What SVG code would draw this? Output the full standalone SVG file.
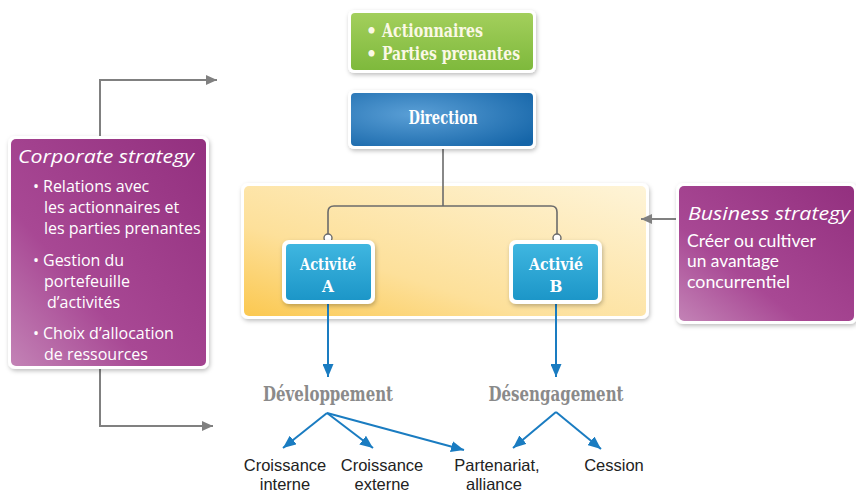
<svg xmlns="http://www.w3.org/2000/svg" width="856" height="495" viewBox="0 0 856 495">
<style>
.slab{font-family:"DejaVu Serif Condensed","DejaVu Serif",serif;font-stretch:condensed;font-weight:bold;}
.wt{fill:#ffffff;}
.body{font-family:"Open Sans","Noto Sans",sans-serif;font-size:16px;fill:#ffffff;}
.body2{font-family:Lato,"Open Sans",sans-serif;font-size:17px;fill:#ffffff;}
.ttl{font-family:"Open Sans","Noto Sans",sans-serif;font-style:italic;font-size:19px;fill:#ffffff;}
.leaf{font-family:"Liberation Sans",Arial,sans-serif;font-size:16.5px;fill:#222222;text-anchor:middle;}
.gray{fill:none;stroke:#808080;stroke-width:2;}
.blue{fill:none;stroke:#1a7cc1;stroke-width:2;}
.tree{fill:none;stroke:#6b6b6b;stroke-width:1.6;}
.frame{fill:#ffffff;}
</style>
<defs>
<filter id="sh" x="-10%" y="-10%" width="130%" height="130%">
<feDropShadow dx="1" dy="2" stdDeviation="2" flood-color="#000" flood-opacity="0.25"/>
</filter>
<linearGradient id="gGreen" x1="0" y1="0" x2="0" y2="1">
<stop offset="0" stop-color="#a3cf5c"/><stop offset="1" stop-color="#7eb93c"/>
</linearGradient>
<radialGradient id="gBlue" cx="0.35" cy="0.4" r="0.8">
<stop offset="0" stop-color="#5a9fd6"/><stop offset="1" stop-color="#1565a8"/>
</radialGradient>
<linearGradient id="gCyan" x1="0" y1="0" x2="0" y2="1">
<stop offset="0" stop-color="#3fb6e0"/><stop offset="1" stop-color="#1c96c8"/>
</linearGradient>
<linearGradient id="gYellow" x1="0" y1="1" x2="1" y2="0">
<stop offset="0" stop-color="#fbc850"/><stop offset="0.35" stop-color="#fde09a"/><stop offset="1" stop-color="#fef4d8"/>
</linearGradient>
<linearGradient id="gPurple" x1="0" y1="1" x2="1" y2="0">
<stop offset="0" stop-color="#c383b6"/><stop offset="0.35" stop-color="#a84894"/><stop offset="1" stop-color="#93307f"/>
</linearGradient>
<marker id="aGray" markerUnits="userSpaceOnUse" markerWidth="11" markerHeight="10" refX="11" refY="5" orient="auto">
<path d="M0,0 L11,5 L0,10 z" fill="#808080"/>
</marker>
<marker id="aBlue" markerUnits="userSpaceOnUse" markerWidth="13" markerHeight="11" refX="13" refY="5.5" orient="auto">
<path d="M0,0 L13,5.5 L0,11 z" fill="#1a7cc1"/>
</marker>
</defs>
<rect width="856" height="495" fill="#ffffff"/>

<g id="business-unit-panel">
<rect x="241" y="183" width="408" height="136" rx="7" class="frame" filter="url(#sh)"/>
<rect x="244" y="186" width="402" height="130" rx="5" fill="url(#gYellow)"/>
</g>

<g id="connectors">
<path class="gray" d="M100,138 V80 H217" marker-end="url(#aGray)"/>
<path class="gray" d="M100,367 V426 H213" marker-end="url(#aGray)"/>
<path class="gray" d="M678,219 H641" marker-end="url(#aGray)"/>
<path class="tree" d="M443,147 V206 M328,238 V212 Q328,206 334,206 H551 Q557,206 557,212 V238"/>
<circle cx="328" cy="238" r="4" fill="#ffffff" stroke="#6b6b6b" stroke-width="1.4"/>
<circle cx="557" cy="238" r="4" fill="#ffffff" stroke="#6b6b6b" stroke-width="1.4"/>
<path class="blue" d="M328,303 V377" marker-end="url(#aBlue)"/>
<path class="blue" d="M556,303 V377" marker-end="url(#aBlue)"/>
<path class="blue" d="M327,413 L283,448" marker-end="url(#aBlue)"/>
<path class="blue" d="M327,413 L373,448" marker-end="url(#aBlue)"/>
<path class="blue" d="M327,413 L464,450" marker-end="url(#aBlue)"/>
<path class="blue" d="M556,412 L513,448" marker-end="url(#aBlue)"/>
<path class="blue" d="M556,412 L601,449" marker-end="url(#aBlue)"/>
</g>

<g id="stakeholders">
<rect x="348" y="10" width="188" height="63" rx="6" class="frame" filter="url(#sh)"/>
<rect x="351" y="13" width="182" height="57" rx="4" fill="url(#gGreen)"/>
<text class="slab" font-size="19" fill="#fbf8e6"><tspan x="366" y="37">•</tspan><tspan x="382" y="37" textLength="101" lengthAdjust="spacingAndGlyphs">Actionnaires</tspan><tspan x="366" y="60">•</tspan><tspan x="382" y="60" textLength="138" lengthAdjust="spacingAndGlyphs">Parties prenantes</tspan></text>
</g>

<g id="direction">
<rect x="348" y="90" width="188" height="59" rx="6" class="frame" filter="url(#sh)"/>
<rect x="351" y="93" width="182" height="53" rx="4" fill="url(#gBlue)"/>
<text class="slab wt" font-size="19" x="443" y="124" text-anchor="middle" textLength="69" lengthAdjust="spacingAndGlyphs">Direction</text>
</g>

<g id="activite-a">
<rect x="282" y="240" width="93" height="64" rx="7" class="frame" filter="url(#sh)"/>
<rect x="286" y="244" width="85" height="56" rx="4" fill="url(#gCyan)"/>
<text class="slab wt" font-size="17" text-anchor="middle"><tspan x="328" y="270" textLength="56" lengthAdjust="spacingAndGlyphs">Activité</tspan><tspan x="328" y="292">A</tspan></text>
</g>

<g id="activite-b">
<rect x="509" y="240" width="93" height="64" rx="7" class="frame" filter="url(#sh)"/>
<rect x="513" y="244" width="85" height="56" rx="4" fill="url(#gCyan)"/>
<text class="slab wt" font-size="17" text-anchor="middle"><tspan x="556" y="270" textLength="54" lengthAdjust="spacingAndGlyphs">Activié</tspan><tspan x="556" y="292">B</tspan></text>
</g>

<g id="corporate-strategy">
<rect x="8" y="136" width="201" height="233" rx="7" class="frame" filter="url(#sh)"/>
<rect x="11" y="139" width="195" height="227" rx="5" fill="url(#gPurple)"/>
<text class="ttl" x="18" y="163" textLength="176" lengthAdjust="spacingAndGlyphs">Corporate strategy</text>
<text class="body">
<tspan x="33" y="192">•</tspan><tspan x="43" y="192">Relations avec</tspan>
<tspan x="44" y="213">les actionnaires et</tspan>
<tspan x="44" y="234">les parties prenantes</tspan>
<tspan x="33" y="266">•</tspan><tspan x="43" y="266">Gestion du</tspan>
<tspan x="44" y="287">portefeuille</tspan>
<tspan x="47" y="308">d’activités</tspan>
<tspan x="33" y="339">•</tspan><tspan x="43" y="339">Choix d’allocation</tspan>
<tspan x="44" y="360">de ressources</tspan>
</text>
</g>

<g id="business-strategy">
<rect x="676" y="183" width="181" height="141" rx="7" class="frame" filter="url(#sh)"/>
<rect x="679" y="186" width="175" height="135" rx="5" fill="url(#gPurple)"/>
<text class="ttl" font-size="18" x="688" y="220" textLength="162" lengthAdjust="spacingAndGlyphs">Business strategy</text>
<text class="body2"><tspan x="687" y="246.5" textLength="129" lengthAdjust="spacingAndGlyphs">Créer ou cultiver</tspan><tspan x="687" y="267" textLength="92" lengthAdjust="spacingAndGlyphs">un avantage</tspan><tspan x="687" y="287.5" textLength="103" lengthAdjust="spacingAndGlyphs">concurrentiel</tspan></text>
</g>

<g id="developpement">
<text class="slab" font-size="20" fill="#8a8a8a" x="328" y="401" text-anchor="middle" textLength="130" lengthAdjust="spacingAndGlyphs">Développement</text>
</g>
<g id="desengagement">
<text class="slab" font-size="20" fill="#8a8a8a" x="556" y="401" text-anchor="middle" textLength="135" lengthAdjust="spacingAndGlyphs">Désengagement</text>
</g>

<g id="croissance-interne"><text class="leaf"><tspan x="285" y="471">Croissance</tspan><tspan x="285" y="490">interne</tspan></text></g>
<g id="croissance-externe"><text class="leaf"><tspan x="382" y="471">Croissance</tspan><tspan x="382" y="490">externe</tspan></text></g>
<g id="partenariat"><text class="leaf"><tspan x="497" y="471">Partenariat,</tspan><tspan x="494" y="490">alliance</tspan></text></g>
<g id="cession"><text class="leaf"><tspan x="614" y="471">Cession</tspan></text></g>
</svg>
